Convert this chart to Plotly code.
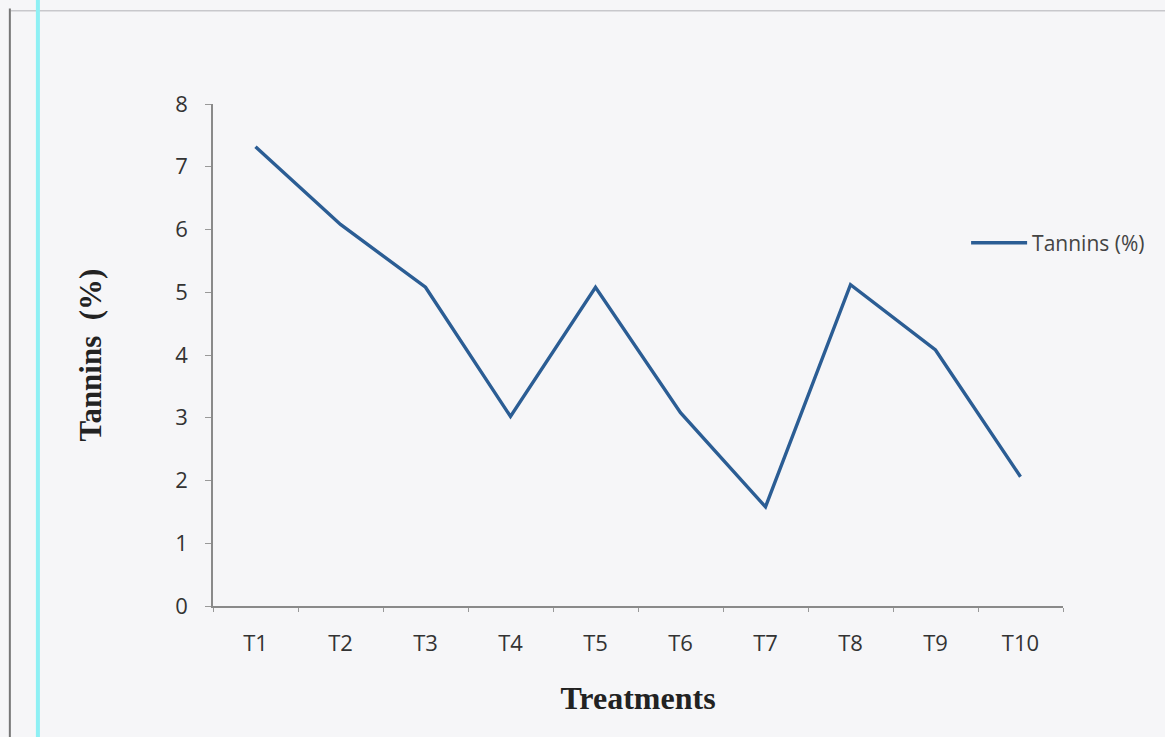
import plotly.graph_objects as go

treatments = ["T1", "T2", "T3", "T4", "T5", "T6", "T7", "T8", "T9", "T10"]
tannins = [7.32, 6.08, 5.08, 3.02, 5.08, 3.08, 1.58, 5.12, 4.08, 2.06]
y_ticks = [0, 1, 2, 3, 4, 5, 6, 7, 8]

fig = go.Figure()
fig.add_trace(go.Scatter(
    x=treatments, y=tannins, mode="lines", name="Tannins (%)",
    line=dict(color="#2b5d94", width=3.4),
))

W, H = 1165, 737
L, R, T, B = 213, 102, 104, 131

fig.update_layout(
    width=W, height=H,
    margin=dict(l=L, r=R, t=T, b=B),
    paper_bgcolor="#f6f6f8",
    plot_bgcolor="rgba(0,0,0,0)",
    showlegend=True,
    legend=dict(x=0.886, y=0.723, xanchor="left", yanchor="middle",
                bgcolor="rgba(0,0,0,0)", font=dict(family="Open Sans", size=21, color="#444"),
                itemwidth=56),
    xaxis=dict(
        type="category", range=[-0.5, 9.5],
        showline=True, linecolor="#8a8a8a", linewidth=1.5,
        ticks="outside", tickson="boundaries", ticklen=4, tickcolor="#999",
        showgrid=False, zeroline=False,
        ticklabelstandoff=17,
        tickfont=dict(family="Open Sans", size=22, color="#333"),
        title=dict(text="<b>Treatments</b>", standoff=30,
                   font=dict(family="Liberation Serif", size=32, color="#222")),
    ),
    yaxis=dict(
        range=[0, 8], tickvals=y_ticks,
        showline=True, linecolor="#8a8a8a", linewidth=1.5,
        ticks="outside", ticklen=6, tickcolor="#999",
        showgrid=False, zeroline=False,
        ticklabelstandoff=13,
        tickfont=dict(family="Open Sans", size=22, color="#333"),
        title=dict(text="<b>Tannins\u00a0 (%)</b>", standoff=64,
                   font=dict(family="Liberation Serif", size=31, color="#222")),
    ),
    shapes=[
        dict(type="line", xref="paper", yref="paper", x0=-0.238, x1=1.12, y0=1.186, y1=1.186,
             line=dict(color="#c8c8cc", width=1.5)),
        dict(type="line", xref="paper", yref="paper", x0=-0.239, x1=-0.239, y0=1.19, y1=-0.27,
             line=dict(color="#777", width=2)),
        dict(type="line", xref="paper", yref="paper", x0=-0.206, x1=-0.206, y0=1.3, y1=-0.3,
             line=dict(color="#8ef0f4", width=4)),
    ],
)

fig.write_html("out.html")
